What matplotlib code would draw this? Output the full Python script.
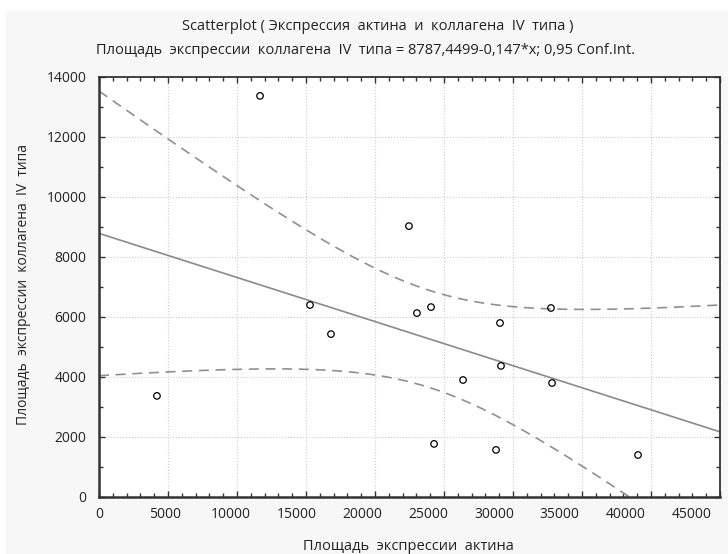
import numpy as np
import matplotlib
matplotlib.use('Agg')
import matplotlib.pyplot as plt
import matplotlib.transforms as mtransforms
from matplotlib.patches import Rectangle
from matplotlib.ticker import MultipleLocator, NullFormatter

plt.rcParams['font.family'] = ['Open Sans', 'DejaVu Sans']

# Data
actin = [4200, 11670, 15290, 16810, 22460, 23040, 24060, 24280, 26380,
         28770, 29060, 29130, 32750, 32830, 39060]
collagen = [3370, 13370, 6400, 5430, 9030, 6130, 6330, 1770, 3900,
            1570, 5800, 4370, 6300, 3800, 1400]
x_ticks = [0, 5000, 10000, 15000, 20000, 25000, 30000, 35000, 40000, 45000]

# Regression coefficients as printed in the subtitle
intercept = 8787.4499
slope = -0.147
t_crit = 2.1604  # t(0.975, df=13)

x = np.array(actin, dtype=float)
y = np.array(collagen, dtype=float)
n = len(x)
resid = y - (intercept + slope * x)
s = np.sqrt(np.sum(resid ** 2) / (n - 2))
sxx = np.sum((x - x.mean()) ** 2)

xs = np.linspace(0, 45000, 300)
fit = intercept + slope * xs
half = t_crit * s * np.sqrt(1.0 / n + (xs - x.mean()) ** 2 / sxx)

fig = plt.figure(figsize=(7.28, 5.54), dpi=100, facecolor='white')
fig.patches.append(Rectangle((6 / 728, 0), 1, 1 - 11 / 554, transform=fig.transFigure,
                             facecolor='#f7f7f7', edgecolor='none', zorder=-1))

ax = fig.add_axes([99 / 728, 57 / 554, 621 / 728, 420 / 554])
ax.set_facecolor('white')

ax.plot(xs, fit, color='#8a8a8a', lw=1.2, zorder=2)
ax.plot(xs, fit + half, color='#909090', lw=1.2, ls=(0, (6, 4)), zorder=2)
ax.plot(xs, fit - half, color='#909090', lw=1.2, ls=(0, (6, 4)), zorder=2)
ax.scatter(x, y, s=22, facecolors='none', edgecolors='black', linewidths=0.9, zorder=3)

ax.set_xlim(0, 45000)
ax.set_ylim(0, 14000)
ax.set_xticks(x_ticks)
ax.xaxis.set_minor_locator(MultipleLocator(1000))
ax.xaxis.set_major_formatter(NullFormatter())
ax.yaxis.set_major_locator(MultipleLocator(2000))
ax.yaxis.set_minor_locator(MultipleLocator(1000))
ax.tick_params(which='both', direction='in', top=True, right=True, color='#333333',
               labelsize=10, labelcolor='#222222')
ax.tick_params(axis='y', pad=9)
ax.tick_params(which='major', length=4, width=1)
ax.tick_params(which='minor', length=3, width=1)
ax.grid(True, which='major', color='#cccccc', ls=':', lw=0.8)
ax.set_axisbelow(True)
for side in ax.spines:
    ax.spines[side].set_color('#333333')
    ax.spines[side].set_linewidth(1.3)
ax.spines['left'].set_linewidth(1.8)
ax.spines['bottom'].set_linewidth(1.8)

# x tick labels sit slightly left of their ticks in the original export
label_squeeze = 0.954
xlab_trans = mtransforms.blended_transform_factory(ax.transData, ax.transAxes) + \
    mtransforms.ScaledTranslation(0, -17 / 100, fig.dpi_scale_trans)
for v in x_ticks:
    ax.text(v * label_squeeze, 0, str(v), transform=xlab_trans, ha='center', va='center',
            fontsize=10, color='#222222', clip_on=False)

ax.set_xlabel('Площадь  экспрессии  актина', fontsize=10.5, color='#222222')
ax.xaxis.set_label_coords(0.4976, -0.119)
ax.xaxis.label.set_va('center')
ax.set_ylabel('Площадь  экспрессии  коллагена  IV  типа', fontsize=10, color='#222222')
ax.yaxis.set_label_coords(-0.121, 0.507)
ax.yaxis.label.set_va('center')

fig.text(378 / 728, 1 - 27 / 554, 'Scatterplot ( Экспрессия  актина  и  коллагена  IV  типа )',
         ha='center', va='center', fontsize=10.5, color='#222222')
fig.text(366 / 728, 1 - 51 / 554,
         'Площадь  экспрессии  коллагена  IV  типа = 8787,4499-0,147*x; 0,95 Conf.Int.',
         ha='center', va='center', fontsize=10.5, color='#222222')

fig.savefig('out.png', dpi=100, facecolor=fig.get_facecolor())
